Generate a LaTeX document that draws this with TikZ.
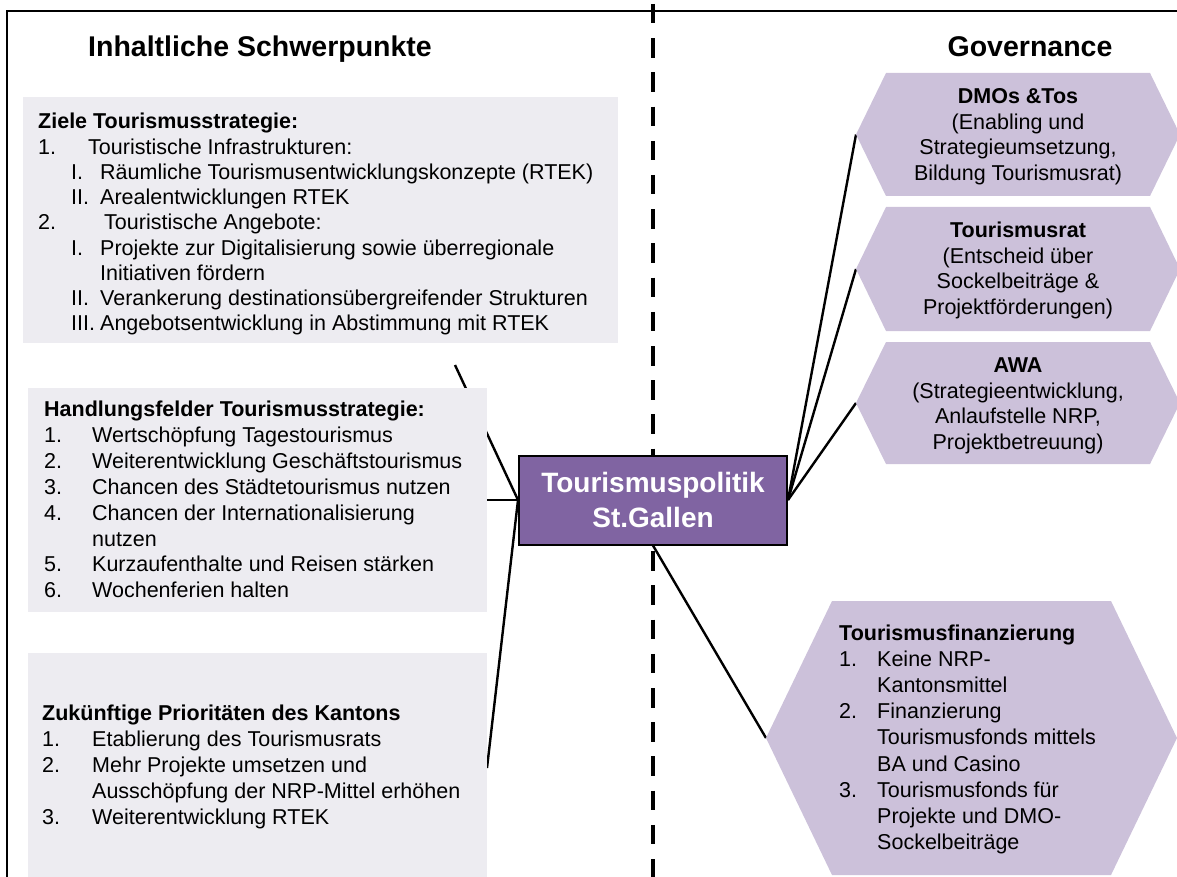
\documentclass[tikz,border=0pt]{standalone}
\usepackage{fontspec}
\setmainfont{Liberation Sans}
\definecolor{boxgray}{RGB}{237,236,241}
\definecolor{lav}{RGB}{204,193,218}
\definecolor{hub}{RGB}{128,100,162}
\pgfdeclarelayer{bg}
\pgfsetlayers{bg,main}
% indented sub-item with a roman numeral label
\newcommand\rom[1]{\hspace*{33pt}\makebox[29pt][l]{#1}}
\begin{document}
\begin{tikzpicture}[x=1pt,y=-1pt,
  panel/.style={fill=boxgray, anchor=north west, inner sep=0pt, outer sep=0pt},
  listtext/.style={anchor=base west, inner sep=0pt},
  hextext/.style={anchor=base, inner sep=0pt, font=\fontsize{21.5}{25.7}\selectfont},
  conn/.style={line width=2.4pt, black},
  colhead/.style={font=\fontsize{28.5}{34}\selectfont\bfseries, anchor=base, inner sep=0pt}]

\useasboundingbox (0,0) rectangle (1177,877);

% column headings
\node[colhead] (lefthead) at (260,57) {Inhaltliche Schwerpunkte};
\node[colhead] (righthead) at (1030,57) {Governance};

% left panels
\node[panel, minimum width=595, minimum height=246] (ziele) at (23,97) {};
\node[panel, minimum width=459, minimum height=224] (hand) at (28,388) {};
\node[panel, minimum width=459, minimum height=230] (zuk) at (28,653) {};

\node[listtext, font=\fontsize{21.5}{25.25}\selectfont] (zieletxt) at (38,129) {%
\begin{tabular}[t]{@{}l@{}}
\textbf{Ziele Tourismusstrategie:}\\
\makebox[50pt][l]{1.}Touristische Infrastrukturen:\\
\rom{I.}Räumliche Tourismusentwicklungskonzepte (RTEK)\\
\rom{II.}Arealentwicklungen RTEK\\
\makebox[66pt][l]{2.}Touristische Angebote:\\
\rom{I.}Projekte zur Digitalisierung sowie überregionale\\
\hspace*{62pt}Initiativen fördern\\
\rom{II.}Verankerung destinationsübergreifender Strukturen\\
\rom{III.}Angebotsentwicklung in Abstimmung mit RTEK
\end{tabular}};

\node[listtext, font=\fontsize{21.5}{25.9}\selectfont] (handtxt) at (44,416.5) {%
\begin{tabular}[t]{@{}l@{}}
\textbf{Handlungsfelder Tourismusstrategie:}\\
\makebox[48pt][l]{1.}Wertschöpfung Tagestourismus\\
\makebox[48pt][l]{2.}Weiterentwicklung Geschäftstourismus\\
\makebox[48pt][l]{3.}Chancen des Städtetourismus nutzen\\
\makebox[48pt][l]{4.}Chancen der Internationalisierung\\
\hspace*{48pt}nutzen\\
\makebox[48pt][l]{5.}Kurzaufenthalte und Reisen stärken\\
\makebox[48pt][l]{6.}Wochenferien halten
\end{tabular}};

\node[listtext, font=\fontsize{21.5}{26}\selectfont] (zuktxt) at (42,720.5) {%
\begin{tabular}[t]{@{}l@{}}
\textbf{Zukünftige Prioritäten des Kantons}\\
\makebox[50pt][l]{1.}Etablierung des Tourismusrats\\
\makebox[50pt][l]{2.}Mehr Projekte umsetzen und\\
\hspace*{50pt}Ausschöpfung der NRP-Mittel erhöhen\\
\makebox[50pt][l]{3.}Weiterentwicklung RTEK
\end{tabular}};

% governance hexagons
\fill[lav] (856,134.5) -- (886,73) -- (1150,73) -- (1180,134.5) -- (1150,196) -- (886,196) -- cycle;
\fill[lav] (856,269) -- (886,207) -- (1150,207) -- (1180,269) -- (1150,331) -- (886,331) -- cycle;
\fill[lav] (856,403) -- (886,342) -- (1150,342) -- (1180,403) -- (1150,464) -- (886,464) -- cycle;
\fill[lav] (766,738) -- (832,601) -- (1111,601) -- (1177,738) -- (1111,875) -- (832,875) -- cycle;
\coordinate (dmotip) at (856,134.5);
\coordinate (rattip) at (856,269);
\coordinate (awatip) at (856,403);
\coordinate (fintip) at (766,738);

\node[hextext] (dmo) at (1018,103.5) {\begin{tabular}[t]{@{}c@{}}
\textbf{DMOs \&Tos}\\(Enabling und\\Strategieumsetzung,\\Bildung Tourismusrat)\end{tabular}};
\node[hextext] (rat) at (1018,237.5) {\begin{tabular}[t]{@{}c@{}}
\textbf{Tourismusrat}\\(Entscheid über\\Sockelbeiträge \&\\Projektförderungen)\end{tabular}};
\node[hextext] (awa) at (1018,372.5) {\begin{tabular}[t]{@{}c@{}}
\textbf{AWA}\\(Strategieentwicklung,\\Anlaufstelle NRP,\\Projektbetreuung)\end{tabular}};

\node[listtext, font=\fontsize{21.5}{26.1}\selectfont] (fin) at (839,640.5) {%
\begin{tabular}[t]{@{}l@{}}
\textbf{Tourismusfinanzierung}\\
\makebox[38pt][l]{1.}Keine NRP-\\
\hspace*{38pt}Kantonsmittel\\
\makebox[38pt][l]{2.}Finanzierung\\
\hspace*{38pt}Tourismusfonds mittels\\
\hspace*{38pt}BA und Casino\\
\makebox[38pt][l]{3.}Tourismusfonds für\\
\hspace*{38pt}Projekte und DMO-\\
\hspace*{38pt}Sockelbeiträge
\end{tabular}};

% central hub
\node[draw=black, line width=2pt, fill=hub, text=white, minimum width=268, minimum height=89,
  inner sep=0pt, align=center, font=\fontsize{28}{35}\selectfont\bfseries] (hubnode) at (653,500)
  {Tourismuspolitik\\St.Gallen};

\coordinate (zieleend) at (455,365);

\begin{pgfonlayer}{bg}
  % outer frame and divider
  \draw[line width=2pt] (7,890) -- (7,11) -- (1190,11);
  \draw[line width=4.5pt, dash pattern=on 19.5pt off 14.7pt] (653,4) -- (653,877);
  % connectors
  \draw[conn] (zieleend) -- (hubnode.west);
  \draw[conn] (hand.east) -- (hubnode.west);
  \draw[conn] (hubnode.west) -- (zuk.east);
  \draw[conn] (hubnode.east) -- (dmotip);
  \draw[conn] (hubnode.east) -- (rattip);
  \draw[conn] (hubnode.east) -- (awatip);
  \draw[conn] (hubnode.south) -- (fintip);
\end{pgfonlayer}
\end{tikzpicture}
\end{document}
